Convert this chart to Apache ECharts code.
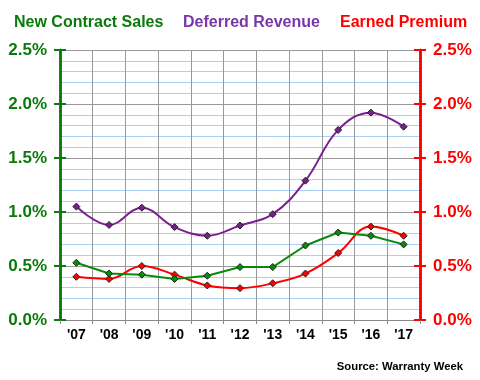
<!DOCTYPE html>
<html><head><meta charset="utf-8">
<script src="https://cdn.jsdelivr.net/npm/echarts@6/dist/echarts.min.js"></script>
<style>html,body{margin:0;padding:0;background:#fff}#c{width:480px;height:380px}</style>
</head><body><div id="c"></div>
<script>
var categories = ["'07","'08","'09","'10","'11","'12","'13","'14","'15","'16","'17"];
var newContractSales = [0.53,0.43,0.42,0.38,0.41,0.49,0.49,0.69,0.81,0.78,0.70];
var deferredRevenue = [1.05,0.88,1.04,0.86,0.78,0.875,0.98,1.29,1.76,1.92,1.79];
var earnedPremium = [0.40,0.38,0.50,0.42,0.32,0.295,0.34,0.43,0.62,0.865,0.78];
var yTicks = [0, 0.5, 1.0, 1.5, 2.0, 2.5];

var GREEN = '#0a7a0a', PURPLE = '#7a1f8f', RED = '#ff0000';
var font = 'Liberation Sans, Arial, sans-serif';
var chart = echarts.init(document.getElementById('c'), null, {renderer:'canvas'});
function lbl(color){
  return {show:true, color:color, fontFamily:font, fontWeight:'bold', fontSize:17, margin:13,
    formatter:function(v){return v.toFixed(1)+'%';}};
}
function yax(pos, color, showLabel, inside, extra) {
  var o = {
    type:'value', position:pos, min:yTicks[0], max:yTicks[yTicks.length-1], interval:0.5,
    axisLine:{show:true, lineStyle:{color:color, width:2.5}},
    axisTick:{show:true, inside:inside, length:6, lineStyle:{color:color, width:2}},
    axisLabel:showLabel ? lbl(color) : {show:false},
    splitLine:{show:false}
  };
  if (extra) Object.assign(o, extra);
  return o;
}
var option = {
  animation:false,
  backgroundColor:'#fff',
  title:[
    {text:'New Contract Sales', left:9, top:10, textStyle:{color:GREEN, fontFamily:font, fontWeight:'bold', fontSize:16}},
    {text:'Deferred Revenue', left:178, top:10, textStyle:{color:'#7a35a8', fontFamily:font, fontWeight:'bold', fontSize:16}},
    {text:'Earned Premium', left:335, top:10, textStyle:{color:RED, fontFamily:font, fontWeight:'bold', fontSize:16}},
    {text:'Source: Warranty Week', right:12, top:356, textStyle:{color:'#000', fontFamily:font, fontWeight:'bold', fontSize:11.3}}
  ],
  grid:{left:60, right:60, top:50, bottom:60},
  xAxis:{
    type:'category', data:categories, boundaryGap:true,
    axisLine:{show:true, lineStyle:{color:'#888', width:1}},
    axisTick:{show:true, length:4, lineStyle:{color:'#888'}},
    axisLabel:{color:'#000', fontFamily:font, fontWeight:'bold', fontSize:14, margin:8},
    splitLine:{show:true, lineStyle:{color:'#999', width:1}}
  },
  yAxis:[
    yax('left', GREEN, true, false, {
      splitLine:{show:true, lineStyle:{color:'#999', width:1}},
      minorTick:{show:false, splitNumber:5},
      minorSplitLine:{show:true, lineStyle:{color:'#a8d0f5', width:1}}
    }),
    yax('right', RED, true, false),
    yax('left', GREEN, false, true),
    yax('right', RED, false, true)
  ],
  series:[
    {name:'Deferred Revenue', type:'line', data:deferredRevenue, smooth:0.4, yAxisIndex:0,
      lineStyle:{color:PURPLE, width:2}, symbol:'diamond', symbolSize:7,
      itemStyle:{color:PURPLE, borderColor:'#222', borderWidth:1}},
    {name:'Earned Premium', type:'line', data:earnedPremium, smooth:0.4, yAxisIndex:0,
      lineStyle:{color:RED, width:2}, symbol:'diamond', symbolSize:7,
      itemStyle:{color:RED, borderColor:'#222', borderWidth:1}},
    {name:'New Contract Sales', type:'line', data:newContractSales, smooth:false, yAxisIndex:0,
      lineStyle:{color:'#0a8a0a', width:2}, symbol:'diamond', symbolSize:7,
      itemStyle:{color:'#0a8a0a', borderColor:'#222', borderWidth:1}}
  ]
};
chart.setOption(option);
</script></body></html>
